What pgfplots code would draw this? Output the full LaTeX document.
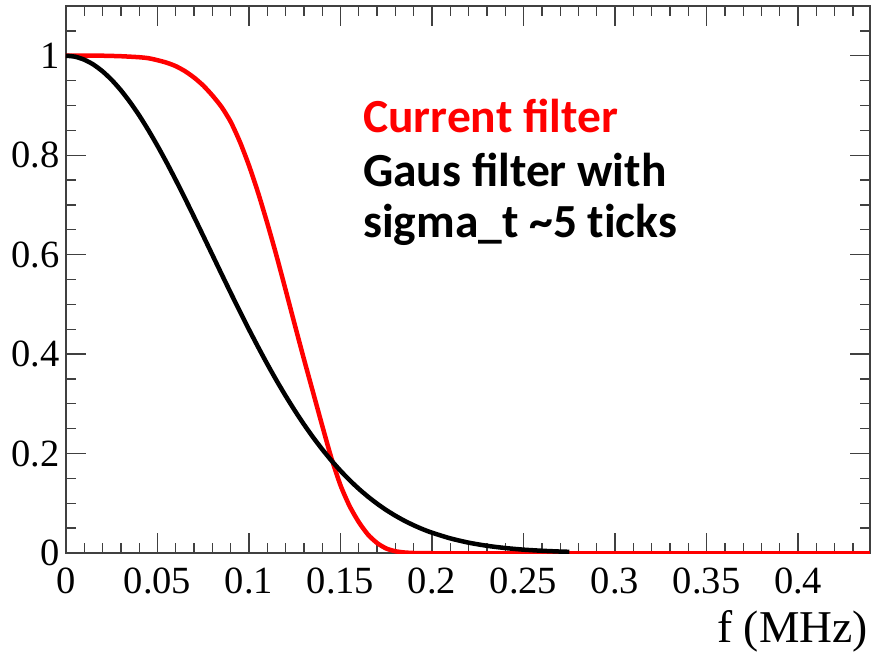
\documentclass[border=0pt]{standalone}
\usepackage{fontspec}
\setmainfont{Liberation Serif}
\newfontfamily\calibri{Carlito}
\usepackage{pgfplots}
\pgfplotsset{compat=1.18}
\definecolor{rootred}{RGB}{255,0,0}
\begin{document}
\begin{tikzpicture}
\useasboundingbox (-66bp,-99bp) rectangle (806bp,553bp);
\begin{axis}[
  at={(0,0)}, anchor=south west,
  scale only axis, width=804bp, height=547bp,
  xmin=0, xmax=0.4393, ymin=0, ymax=1.1,
  axis line style={black!75, line width=1.3bp},
  tick style={black!75, line width=1.3bp},
  tick align=inside,
  major tick length=20bp, minor tick length=10bp,
  xtick={0,0.05,0.1,0.15,0.2,0.25,0.3,0.35,0.4},
  xticklabels={0,0.05,0.1,0.15,0.2,0.25,0.3,0.35,0.4},
  minor xtick={0.01,0.02,...,0.435},
  ytick={0,0.2,0.4,0.6,0.8,1},
  yticklabels={0,0.2,0.4,0.6,0.8,1},
  minor ytick={0.05,0.1,...,1.09},
  tick label style={font=\fontsize{38.5bp}{40bp}\selectfont},
  xticklabel style={anchor=base, inner sep=0pt, yshift=-40bp},
  yticklabel style={anchor=east, inner sep=0pt, xshift=-6bp},
  xlabel={f (MHz)},
  xlabel style={font=\fontsize{45.5bp}{47bp}\selectfont, at={(axis description cs:0.9975,-0.1645)}, anchor=base east, inner sep=0pt},
  clip=true,
]
\addplot[rootred, line width=4.5bp, line join=round, smooth, tension=0.4] coordinates {
(0,1) (0.01,1) (0.02,1) (0.03,0.999) (0.04,0.997) (0.045,0.995) (0.05,0.991)
(0.055,0.986) (0.06,0.979) (0.065,0.969) (0.07,0.956) (0.075,0.94) (0.08,0.92)
(0.085,0.897) (0.09,0.867) (0.095,0.827) (0.1,0.779) (0.105,0.724) (0.11,0.663)
(0.115,0.598) (0.12,0.529) (0.125,0.459) (0.13,0.39) (0.135,0.323) (0.14,0.256)
(0.145,0.191) (0.15,0.136) (0.155,0.094) (0.16,0.062) (0.165,0.037) (0.17,0.02)
(0.175,0.009) (0.18,0.0035) (0.185,0.001) (0.19,0) (0.195,0) (0.2,0)
};
\addplot[rootred, line width=4.5bp] coordinates {(0.195,0) (0.4393,0)};
\addplot[black, line width=4.5bp, line join=round, smooth, tension=0.4] coordinates {
(0,1) (0.005,0.998) (0.01,0.992) (0.015,0.9822) (0.02,0.9685) (0.025,0.9512)
(0.03,0.9305) (0.035,0.9066) (0.04,0.8799) (0.045,0.8504) (0.05,0.8187)
(0.055,0.7851) (0.06,0.7498) (0.065,0.7132) (0.07,0.6757) (0.075,0.6376)
(0.08,0.5993) (0.085,0.561) (0.09,0.5231) (0.095,0.4858) (0.1,0.4493)
(0.105,0.414) (0.11,0.3798) (0.115,0.3471) (0.12,0.316) (0.125,0.2865)
(0.13,0.2587) (0.135,0.2327) (0.14,0.2085) (0.145,0.186) (0.15,0.1653)
(0.155,0.1463) (0.16,0.129) (0.165,0.1133) (0.17,0.0991) (0.175,0.0863)
(0.18,0.0749) (0.185,0.0647) (0.19,0.0557) (0.195,0.0477) (0.2,0.0408)
(0.21,0.0294) (0.22,0.0208) (0.23,0.0145) (0.24,0.00997) (0.25,0.0067)
(0.26,0.0045) (0.27,0.0029) (0.275,0.0024)
};
\node[anchor=base west, inner sep=0pt, text=rootred, font=\calibri\bfseries\fontsize{47.5bp}{52bp}\selectfont] at (axis cs:0.1623,0.845) {Current filter};
\node[anchor=base west, inner sep=0pt, text=black, font=\calibri\bfseries\fontsize{47.5bp}{52bp}\selectfont] at (axis cs:0.1623,0.7364) {Gaus filter with};
\node[anchor=base west, inner sep=0pt, text=black, font=\calibri\bfseries\fontsize{47.5bp}{52bp}\selectfont] at (axis cs:0.1623,0.6338) {sigma\_t \textasciitilde 5 t\kern0pt icks};
\end{axis}
\end{tikzpicture}
\end{document}
